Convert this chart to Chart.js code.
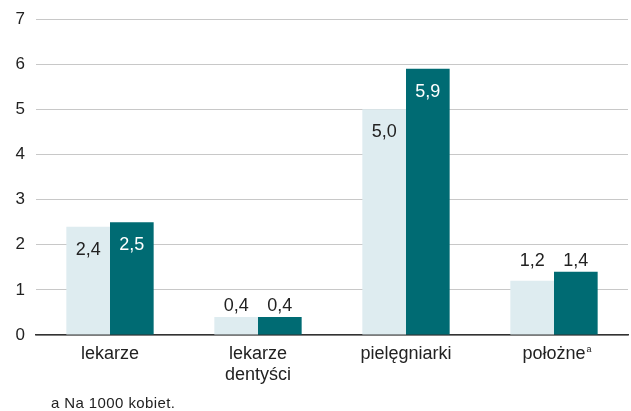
<!DOCTYPE html>
<html>
<head>
<meta charset="utf-8">
<script src="https://cdn.jsdelivr.net/npm/chart.js@4"></script>
<style>
  html, body { margin: 0; padding: 0; background: #fff; }
  #wrap { position: relative; width: 631px; height: 411px; }
  #note { position: absolute; left: 51px; top: 394px; font: 15px "Liberation Sans", Arial, sans-serif; letter-spacing: 0.4px; color: #222; }
</style>
</head>
<body>
<div id="wrap">
  <canvas id="myChart" width="631" height="411"></canvas>
  <div id="note">a Na 1000 kobiet.</div>
</div>
<script>
// dane
const kategorie = ['lekarze', ['lekarze', 'dentyści'], 'pielęgniarki', 'położne'];
const przypisy = ['', '', '', 'a'];
const seria1 = [2.4, 0.4, 5.0, 1.2];
const seria2 = [2.5, 0.4, 5.9, 1.4];
const yTicks = [0, 1, 2, 3, 4, 5, 6, 7];

const font = '"Liberation Sans", Arial, sans-serif';

// etykiety wartosci na slupkach
const etykiety = {
  id: 'etykiety',
  afterDatasetsDraw(chart) {
    const ctx = chart.ctx;
    ctx.save();
    ctx.font = '18px ' + font;
    ctx.textAlign = 'center';
    ctx.textBaseline = 'middle';
    const metas = [chart.getDatasetMeta(0), chart.getDatasetMeta(1)];
    for (let i = 0; i < kategorie.length; i++) {
      const minTop = Math.min(metas[0].data[i].y, metas[1].data[i].y);
      metas.forEach((meta, d) => {
        const el = meta.data[i];
        const v = chart.data.datasets[d].data[i];
        const txt = v.toFixed(1).replace('.', ',');
        if (v >= 2) {
          ctx.fillStyle = d === 0 ? '#222' : '#fff';
          ctx.fillText(txt, el.x, el.y + 23);
        } else {
          ctx.fillStyle = '#222';
          ctx.fillText(txt, el.x, minTop - 11);
        }
      });
    }
    // indeks gorny przy etykiecie kategorii
    const xs = chart.scales.x;
    przypisy.forEach((p, i) => {
      if (!p) return;
      const lab = kategorie[i];
      ctx.font = '18px ' + font;
      const w = ctx.measureText(Array.isArray(lab) ? lab[0] : lab).width;
      const x = xs.getPixelForTick(i) + w / 2 + 1;
      ctx.font = '9px ' + font;
      ctx.fillStyle = '#222';
      ctx.textAlign = 'left';
      ctx.fillText(p, x, chart.chartArea.bottom + 15);
    });
    ctx.restore();
  }
};

const ctx = document.getElementById('myChart').getContext('2d');
new Chart(ctx, {
  type: 'bar',
  data: {
    labels: kategorie,
    datasets: [{
      label: 'seria 1',
      data: seria1,
      backgroundColor: '#deecf0',
      categoryPercentage: 0.59,
      barPercentage: 1
    }, {
      label: 'seria 2',
      data: seria2,
      backgroundColor: '#006b73',
      categoryPercentage: 0.59,
      barPercentage: 1
    }]
  },
  options: {
    responsive: false,
    animation: false,
    layout: { padding: { top: 19, right: 3, bottom: 0, left: 0 } },
    plugins: {
      legend: { display: false },
      tooltip: { enabled: false }
    },
    scales: {
      x: {
        grid: { display: false, drawTicks: false },
        border: { display: true, color: '#333', width: 1.5 },
        ticks: { color: '#222', font: { family: font, size: 18, lineHeight: 1.2 }, padding: 8, maxRotation: 0 },
        afterFit(scale) { scale.height = 76; scale.paddingLeft = 0; scale.paddingRight = 0; }
      },
      y: {
        min: 0,
        max: 7,
        afterBuildTicks(scale) { scale.ticks = yTicks.map(v => ({ value: v })); },
        grid: { color: '#c8c8c8', lineWidth: 1, drawTicks: false },
        border: { display: false },
        ticks: { color: '#222', font: { family: font, size: 17 }, padding: 11 },
        afterFit(scale) { scale.width = 36; scale.paddingTop = 0; scale.paddingBottom = 0; }
      }
    }
  },
  plugins: [etykiety]
});
</script>
</body>
</html>
